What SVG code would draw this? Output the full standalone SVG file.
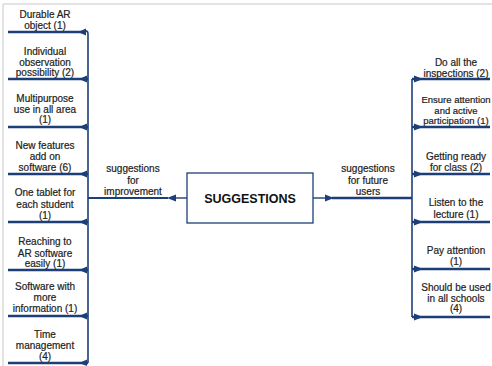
<svg xmlns="http://www.w3.org/2000/svg" width="492" height="366" viewBox="0 0 492 366">
<style>
  .t { font-family: "Liberation Sans", Arial, sans-serif; font-size: 10px; fill: #222; stroke: #222; stroke-width: 0.2; text-anchor: middle; }
  .s { font-size: 9.5px; }
  .title { font-family: "Liberation Sans", Arial, sans-serif; font-size: 12.5px; font-weight: bold; fill: #111; text-anchor: middle; }
  .br { fill: none; stroke: #1d3f78; stroke-width: 1.6; stroke-linejoin: round; }
  .h { stroke: #1d3f78; stroke-width: 2.6; fill: none; }
  .thin { stroke: #1d3f78; stroke-width: 1.4; fill: none; }
  .box { fill: #fff; stroke: #1d3f78; stroke-width: 1.3; }
  .ah { fill: #1d3f78; }
</style>
<rect x="0" y="0" width="492" height="366" fill="#fff"/>
<path d="M3 366 V4 H492" fill="none" stroke="#c8c8c8" stroke-width="1"/>

<g id="connectors">
  <path class="br" d="M84 31 Q88 30 88 34 V363"/>
  <line class="h" x1="8" y1="32" x2="86" y2="32"/>
  <line class="h" x1="8" y1="79" x2="88" y2="79"/>
  <line class="h" x1="8" y1="127" x2="88" y2="127"/>
  <line class="h" x1="8" y1="174" x2="88" y2="174"/>
  <line class="h" x1="8" y1="222" x2="88" y2="222"/>
  <line class="h" x1="8" y1="270" x2="88" y2="270"/>
  <line class="h" x1="8" y1="316" x2="88" y2="316"/>
  <line class="h" x1="8" y1="363" x2="88" y2="363"/>
  <g class="ah">
    <polygon points="78,32 86,28.5 86,35.5"/>
    <polygon points="79,79 87,75.5 87,82.5"/>
    <polygon points="79,127 87,123.5 87,130.5"/>
    <polygon points="79,174 87,170.5 87,177.5"/>
    <polygon points="79,222 87,218.5 87,225.5"/>
    <polygon points="79,270 87,266.5 87,273.5"/>
    <polygon points="79,316 87,312.5 87,319.5"/>
    <polygon points="79,363 87,359.5 87,366"/>
  </g>
  <line class="thin" x1="187" y1="198" x2="174" y2="198"/>
  <line class="h" x1="168" y1="198" x2="88" y2="198" style="stroke-width:2"/>
  <polygon class="ah" points="167,198 176,194.5 176,201.5"/>

  <line class="thin" x1="313" y1="198" x2="326" y2="198"/>
  <line class="h" x1="332" y1="198" x2="412" y2="198"/>
  <polygon class="ah" points="334,198 325,194.5 325,201.5"/>
  <path class="br" d="M412 79 V317"/>
  <line class="h" x1="412" y1="79" x2="490" y2="79"/>
  <line class="h" x1="412" y1="127" x2="490" y2="127"/>
  <line class="h" x1="412" y1="174" x2="490" y2="174"/>
  <line class="h" x1="412" y1="222" x2="490" y2="222"/>
  <line class="h" x1="412" y1="269" x2="490" y2="269"/>
  <line class="h" x1="412" y1="317" x2="490" y2="317"/>
  <g class="ah">
    <polygon points="423,79 414,75.5 414,82.5"/>
    <polygon points="423,127 414,123.5 414,130.5"/>
    <polygon points="423,174 414,170.5 414,177.5"/>
    <polygon points="423,222 414,218.5 414,225.5"/>
    <polygon points="423,269 414,265.5 414,272.5"/>
    <polygon points="423,317 414,313.5 414,320.5"/>
  </g>
  <text class="t" x="133" y="172">suggestions</text>
  <text class="t" x="133" y="184">for</text>
  <text class="t" x="133" y="195">improvement</text>
  <text class="t" x="368" y="172">suggestions</text>
  <text class="t" x="368" y="184">for future</text>
  <text class="t" x="368" y="195">users</text>
</g>

<g id="suggestions">
  <rect class="box" x="187" y="173" width="126" height="50"/>
  <text class="title" x="250" y="203">SUGGESTIONS</text>
</g>

<g id="l1"><text class="t" x="45" y="18">Durable AR</text><text class="t" x="45" y="29">object (1)</text></g>
<g id="l2"><text class="t" x="45" y="55">Individual</text><text class="t" x="45" y="66">observation</text><text class="t" x="45" y="76">possibility (2)</text></g>
<g id="l3"><text class="t" x="45" y="102">Multipurpose</text><text class="t" x="45" y="113">use in all area</text><text class="t" x="45" y="123">(1)</text></g>
<g id="l4"><text class="t" x="45" y="149">New features</text><text class="t" x="45" y="160">add on</text><text class="t" x="45" y="171">software (6)</text></g>
<g id="l5"><text class="t" x="45" y="196">One tablet for</text><text class="t" x="45" y="208">each student</text><text class="t" x="45" y="219">(1)</text></g>
<g id="l6"><text class="t" x="45" y="245">Reaching to</text><text class="t" x="45" y="257">AR software</text><text class="t" x="45" y="267">easily (1)</text></g>
<g id="l7"><text class="t" x="45" y="290">Software with</text><text class="t" x="45" y="301">more</text><text class="t" x="45" y="312">information (1)</text></g>
<g id="l8"><text class="t" x="45" y="338">Time</text><text class="t" x="45" y="349">management</text><text class="t" x="45" y="360">(4)</text></g>

<g id="r1"><text class="t" x="456" y="66">Do all the</text><text class="t" x="456" y="77">inspections (2)</text></g>
<g id="r2"><text class="t s" x="456" y="103">Ensure attention</text><text class="t s" x="456" y="113.5">and active</text><text class="t s" x="456" y="124">participation (1)</text></g>
<g id="r3"><text class="t" x="456" y="160">Getting ready</text><text class="t" x="456" y="171">for class (2)</text></g>
<g id="r4"><text class="t" x="456" y="206">Listen to the</text><text class="t" x="456" y="218">lecture (1)</text></g>
<g id="r5"><text class="t" x="456" y="254">Pay attention</text><text class="t" x="456" y="265">(1)</text></g>
<g id="r6"><text class="t" x="456" y="291">Should be used</text><text class="t" x="456" y="302">in all schools</text><text class="t" x="456" y="312">(4)</text></g>
</svg>
